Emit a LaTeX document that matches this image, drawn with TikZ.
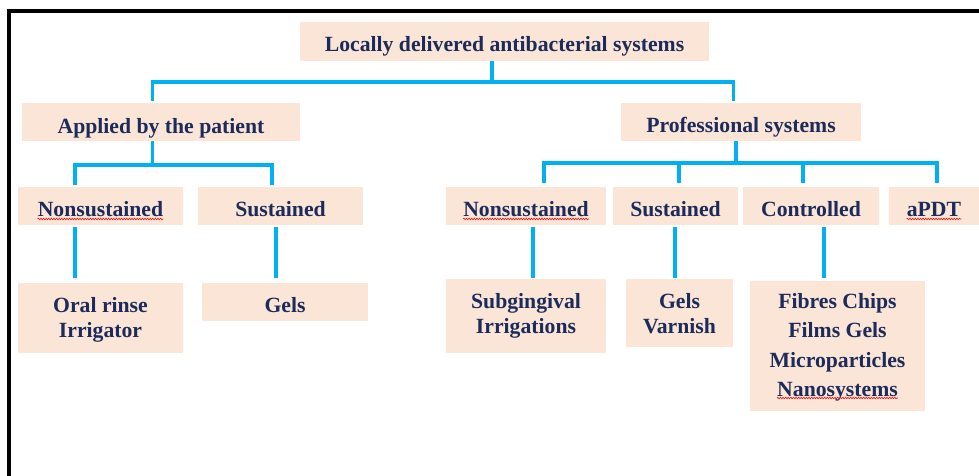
\documentclass[tikz,border=0pt]{standalone}
\usepackage{fontspec}
\setmainfont{Liberation Serif}
\usetikzlibrary{decorations.pathmorphing}
\definecolor{boxfill}{HTML}{FBE5D6}
\definecolor{txt}{HTML}{1C2B5A}
\definecolor{conncol}{HTML}{00B0F0}
\definecolor{squig}{HTML}{E02020}
\tikzset{
  box/.style={fill=boxfill, draw=none, inner sep=0pt, outer sep=0pt},
  lbl/.style={anchor=base, inner sep=0pt, text=txt, font=\fontsize{21.7}{26}\selectfont\bfseries},
  conn/.style={draw=conncol, line width=3.2pt},
  frameline/.style={draw=black, line width=4pt},
  squiggle/.style={draw=squig, line width=0.7pt, decorate, decoration={snake, segment length=2.6pt, amplitude=0.7pt}}
}
\begin{document}
\begin{tikzpicture}[x=1pt,y=-1pt]
\useasboundingbox (0,0) rectangle (979,476);
\fill[white] (0,0) rectangle (979,476);
% frame
\draw[frameline] (9,476) -- (9,11) -- (979,11);
% boxes
\node[box, minimum width=409, minimum height=39] (top) at (504.5,41.5) {};
\node[box, minimum width=278, minimum height=38] (appl) at (161,122) {};
\node[box, minimum width=240, minimum height=38] (prof) at (741,122) {};
\node[box, minimum width=165, minimum height=38] (nsL) at (100.5,206) {};
\node[box, minimum width=165, minimum height=38] (susL) at (280.5,206) {};
\node[box, minimum width=160, minimum height=38] (nsR) at (526,206) {};
\node[box, minimum width=125, minimum height=38] (susR) at (675.5,206) {};
\node[box, minimum width=136, minimum height=38] (ctrl) at (811,206) {};
\node[box, minimum width=90, minimum height=38] (apdt) at (934,206) {};
\node[box, minimum width=165, minimum height=70] (oral) at (100.5,318) {};
\node[box, minimum width=166, minimum height=38] (gelsL) at (285,302) {};
\node[box, minimum width=160, minimum height=74] (subg) at (526,316) {};
\node[box, minimum width=107, minimum height=68] (gelsR) at (679.5,313) {};
\node[box, minimum width=175, minimum height=130] (fib) at (837.5,346) {};
% texts
\node[lbl] (ttop) at (504.5,52) {Locally delivered antibacterial systems};
\node[lbl] (tappl) at (161,133) {Applied by the patient};
\node[lbl] (tprof) at (741,132) {Professional systems};
\node[lbl] (tnsL) at (100.5,216) {Nonsustained};
\node[lbl] (tsusL) at (280.5,216) {Sustained};
\node[lbl] (tnsR) at (526,216) {Nonsustained};
\node[lbl] (tsusR) at (675.5,216) {Sustained};
\node[lbl] (tctrl) at (811,216) {Controlled};
\node[lbl] (tapdt) at (934,216) {aPDT};
\node[lbl] (toral1) at (100.5,312) {Oral rinse};
\node[lbl] (toral2) at (100.5,337) {Irrigator};
\node[lbl] (tgelsL) at (285,312) {Gels};
\node[lbl] (tsubg1) at (526,308) {Subgingival};
\node[lbl] (tsubg2) at (526,333) {Irrigations};
\node[lbl] (tgelsR1) at (679.5,308) {Gels};
\node[lbl] (tgelsR2) at (679.5,333) {Varnish};
\node[lbl] (tfib1) at (837.5,308) {Fibres Chips};
\node[lbl] (tfib2) at (837.5,337) {Films Gels};
\node[lbl] (tfib3) at (837.5,367) {Microparticles};
\node[lbl] (tfib4) at (837.5,396) {Nanosystems};
% spell-check underlines
\draw[squiggle] ([yshift=-3pt]tnsL.base west) -- ([yshift=-3pt]tnsL.base east);
\draw[squiggle] ([yshift=-3pt]tnsR.base west) -- ([yshift=-3pt]tnsR.base east);
\draw[squiggle] ([yshift=-3pt]tapdt.base west) -- ([yshift=-3pt]tapdt.base east);
\draw[squiggle] ([yshift=-2pt]tfib4.base west) -- ([yshift=-2pt]tfib4.base east);
% junctions
\coordinate (j0) at (492,82);
\coordinate (j1) at (152.5,165);
\coordinate (j2) at (736,163);
\coordinate (k1) at (679,163);
\coordinate (k2) at (803,163);
% connectors
\draw[conn] ([xshift=-12.5pt]top.south) -- (j0);
\draw[conn] ([xshift=-8.5pt,yshift=2pt]appl.north) |- (j0) -| ([xshift=-7.5pt,yshift=2pt]prof.north);
\draw[conn] ([xshift=-8.5pt]appl.south) -- (j1);
\draw[conn] ([xshift=-25.5pt,yshift=2pt]nsL.north) |- (j1) -| ([xshift=-8.5pt,yshift=2pt]susL.north);
\draw[conn] ([xshift=-5pt]prof.south) -- (j2);
\draw[conn] ([xshift=18pt,yshift=4pt]nsR.north) |- (j2) -| ([xshift=3pt,yshift=4pt]apdt.north);
\draw[conn] ([xshift=3.5pt,yshift=4pt]susR.north) -- (k1);
\draw[conn] ([xshift=-8pt,yshift=4pt]ctrl.north) -- (k2);
\draw[conn, shorten <=2pt, shorten >=5pt] ([xshift=-25.5pt]nsL.south) -- ([xshift=-25.5pt]oral.north);
\draw[conn, shorten <=2pt, shorten >=5pt] ([xshift=-4.5pt]susL.south) -- ([xshift=-9pt]gelsL.north);
\draw[conn, shorten <=2pt, shorten >=1pt] ([xshift=7pt]nsR.south) -- ([xshift=7pt]subg.north);
\draw[conn, shorten <=2pt, shorten >=1pt] ([xshift=-0.5pt]susR.south) -- ([xshift=-4.5pt]gelsR.north);
\draw[conn, shorten <=2pt, shorten >=3pt] ([xshift=13pt]ctrl.south) -- ([xshift=-13.5pt]fib.north);
\end{tikzpicture}
\end{document}
